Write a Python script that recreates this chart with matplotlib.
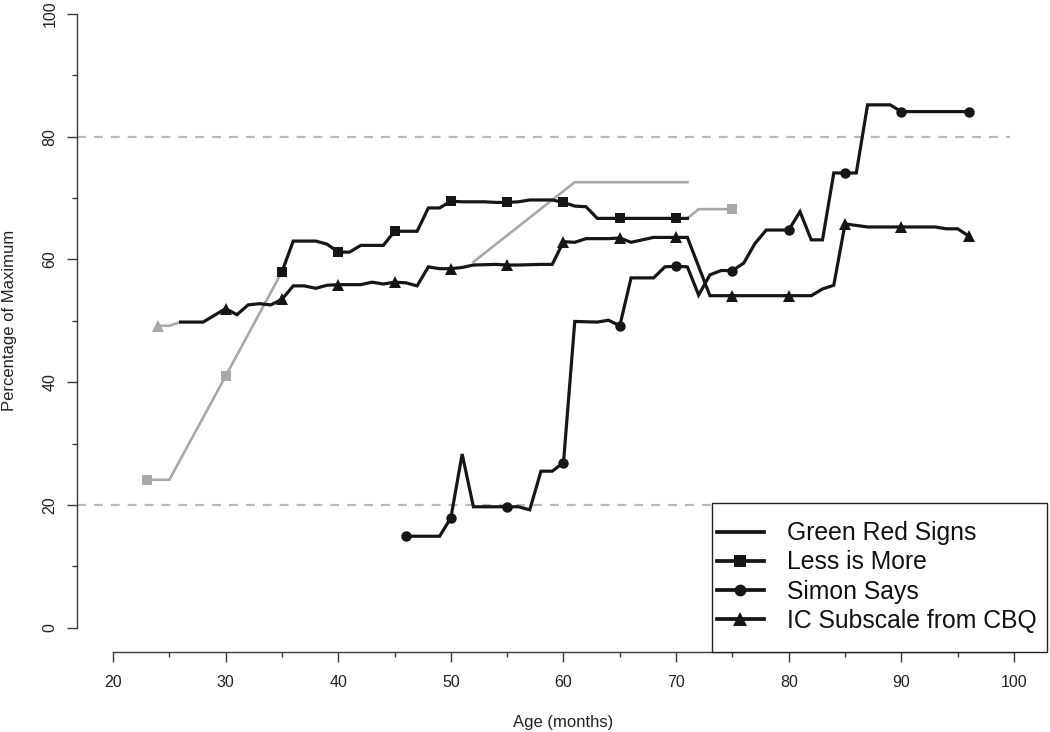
import numpy as np
import matplotlib
matplotlib.use("Agg")
import matplotlib.pyplot as plt
from matplotlib.lines import Line2D
from matplotlib.patches import Rectangle

plt.rcParams['font.family'] = ['Liberation Sans', 'DejaVu Sans']

# ---------------- data ----------------
# Less is More (black segment)
less_age = [35, 36, 37, 38, 39, 40, 41, 42, 43, 44, 45, 46, 47, 48, 49, 50, 51, 52, 53, 54,
            55, 56, 57, 58, 59, 60, 61, 62, 63, 64, 65, 66, 67, 68, 69, 70, 71]
less_val = [58.0, 63.0, 63.0, 63.0, 62.5, 61.2, 61.2, 62.3, 62.3, 62.3, 64.6, 64.6, 64.6, 68.4, 68.4,
            69.5, 69.4, 69.4, 69.4, 69.3, 69.3, 69.4, 69.7, 69.7, 69.7, 69.3, 68.7, 68.6,
            66.7, 66.7, 66.7, 66.7, 66.7, 66.7, 66.7, 66.7, 66.7]
less_marks = [35, 40, 45, 50, 55, 60, 65, 70]
# Less is More (grey segments)
less_g1_age = [23, 25, 30, 35]
less_g1_val = [24.1, 24.1, 41.0, 58.0]
less_g1_marks = [23, 30]
less_g2_age = [71, 72, 75]
less_g2_val = [66.7, 68.2, 68.2]
less_g2_marks = [75]

# Simon Says
simon_age = [46, 49, 50, 51, 52, 55, 56, 57, 58, 59, 60, 61, 63, 64, 65, 66, 68, 69, 70, 71,
             72, 73, 74, 75, 76, 77, 78, 80, 81, 82, 83, 84, 85, 86, 87, 89, 90, 96]
simon_val = [14.9, 14.9, 17.9, 28.3, 19.7, 19.7, 19.7, 19.2, 25.5, 25.5, 26.9, 49.9, 49.8, 50.1,
             49.2, 57.0, 57.0, 58.8, 58.9, 58.8, 54.2, 57.5, 58.2, 58.2, 59.4, 62.6, 64.8, 64.8,
             67.8, 63.2, 63.2, 74.1, 74.1, 74.1, 85.2, 85.2, 84.1, 84.1]
simon_marks = [46, 50, 55, 60, 65, 70, 75, 80, 85, 90, 96]

# IC Subscale from CBQ
ic_age = [26, 28, 30, 31, 32, 33, 34, 35, 36, 37, 38, 39, 40, 42, 43, 44, 45, 46, 47, 48, 49,
          50, 51, 52, 54, 55, 56, 58, 59, 60, 61, 62, 64, 65, 66, 67, 68, 70, 71, 73, 75, 80,
          82, 83, 84, 85, 87, 90, 93, 94, 95, 96]
ic_val = [49.8, 49.8, 52.0, 51.0, 52.6, 52.8, 52.6, 53.5, 55.7, 55.7, 55.3, 55.8, 55.9, 55.9,
          56.3, 56.0, 56.3, 56.2, 55.7, 58.8, 58.5, 58.5, 58.7, 59.1, 59.2, 59.1, 59.1, 59.2,
          59.2, 62.9, 62.8, 63.4, 63.4, 63.5, 62.8, 63.2, 63.6, 63.6, 63.6, 54.1, 54.1, 54.1,
          54.1, 55.2, 55.8, 65.8, 65.3, 65.3, 65.3, 65.0, 65.0, 63.8]
ic_marks = [30, 35, 40, 45, 50, 55, 60, 65, 70, 75, 80, 85, 90, 96]
ic_g_age = [24, 25, 26]
ic_g_val = [49.2, 49.2, 49.8]
ic_g_marks = [24]

# Green Red Signs (grey)
grs_age = [52, 61, 71]
grs_val = [59.6, 72.6, 72.6]

ref_lines = [20, 80]
legend_labels = ["Green Red Signs", "Less is More", "Simon Says", "IC Subscale from CBQ"]

# ---------------- style ----------------
BLACK = "#161616"
GREY = "#a9a9a9"
LW_B = 2.3
LW_G = 1.9

W, H = 1050, 732
fig = plt.figure(figsize=(W / 100, H / 100), dpi=100)
ax = fig.add_axes([77 / W, 1 - 652.2 / H, 973 / W, 662.7 / H])
ax.set_xlim(16.8, 103.2)
ax.set_ylim(-4, 104)
ax.patch.set_alpha(0)

for y in ref_lines:
    l = ax.axhline(y, xmin=0, xmax=0.959, color="#b8b8b8", lw=1.6, zorder=1)
    l.set_dashes((4.0, 3.6))


def series(a, v, marks, color, lw, marker, ms, z):
    a = np.asarray(a)
    mask = np.isin(a, marks)
    ax.plot(a, v, color=color, lw=lw, marker=marker, ms=ms, markevery=list(np.where(mask)[0]),
            markeredgewidth=0, solid_joinstyle='miter', zorder=z)


series(less_g1_age, less_g1_val, less_g1_marks, GREY, LW_G, 's', 7.5, 2)
series(less_g2_age, less_g2_val, less_g2_marks, GREY, LW_G, 's', 7.5, 2)
series(ic_g_age, ic_g_val, ic_g_marks, GREY, LW_G, '^', 8.5, 2)
ax.plot(grs_age, grs_val, color=GREY, lw=LW_G, zorder=2)
series(less_age, less_val, less_marks, BLACK, LW_B, 's', 7.5, 3)
series(simon_age, simon_val, simon_marks, BLACK, LW_B, 'o', 7.5, 3)
series(ic_age, ic_val, ic_marks, BLACK, LW_B, '^', 8.5, 3)

# axes styling (R-like)
for s in ['top', 'right']:
    ax.spines[s].set_visible(False)
ax.spines['left'].set_bounds(0, 100)
ax.spines['bottom'].set_bounds(20, 100)
for s in ['left', 'bottom']:
    ax.spines[s].set_color("#3a3a3a")
    ax.spines[s].set_linewidth(1.0)

ax.set_xticks(np.arange(20, 101, 10))
ax.set_xticks(np.arange(25, 100, 10), minor=True)
ax.set_yticks(np.arange(0, 101, 20))
ax.set_yticks(np.arange(10, 100, 20), minor=True)
ax.tick_params(axis='both', which='major', length=7.2, width=1.0, color="#3a3a3a",
               labelsize=11.5, labelcolor="#222222")
ax.tick_params(axis='both', which='minor', length=3.6, width=1.0, color="#3a3a3a")
ax.tick_params(axis='x', which='major', pad=9)
ax.tick_params(axis='y', which='major', pad=7)
for t in ax.get_yticklabels():
    t.set_rotation(90)
    t.set_va('center')

fig.text(563 / W, 1 - 723 / H, "Age (months)", ha='center', va='center', fontsize=12, color="#222222")
fig.text(10 / W, 1 - 320 / H, "Percentage of Maximum", ha='center', va='center', rotation=90,
         fontsize=12, color="#222222")

# legend
rect = Rectangle((712 / W, 1 - 652 / H), (1047 - 712) / W, (652 - 503) / H,
                 transform=fig.transFigure, facecolor='white', edgecolor='#222222', lw=1.0, zorder=5)
fig.patches.append(rect)

handles = [
    Line2D([], [], color=BLACK, lw=LW_B + 0.4),
    Line2D([], [], color=BLACK, lw=LW_B + 0.4, marker='s', ms=8, markeredgewidth=0),
    Line2D([], [], color=BLACK, lw=LW_B + 0.4, marker='o', ms=8.5, markeredgewidth=0),
    Line2D([], [], color=BLACK, lw=LW_B + 0.4, marker='^', ms=9.5, markeredgewidth=0),
]
leg = fig.legend(handles, legend_labels, loc='center left', bbox_to_anchor=(717 / W, 1 - 577 / H),
                 frameon=False, fontsize=17.8, borderpad=0, borderaxespad=0, handlelength=1.9,
                 handletextpad=0.93, labelspacing=0.21, numpoints=1)
leg.set_zorder(6)
for t in leg.get_texts():
    t.set_color("#111111")

fig.savefig("out.png", dpi=100)
